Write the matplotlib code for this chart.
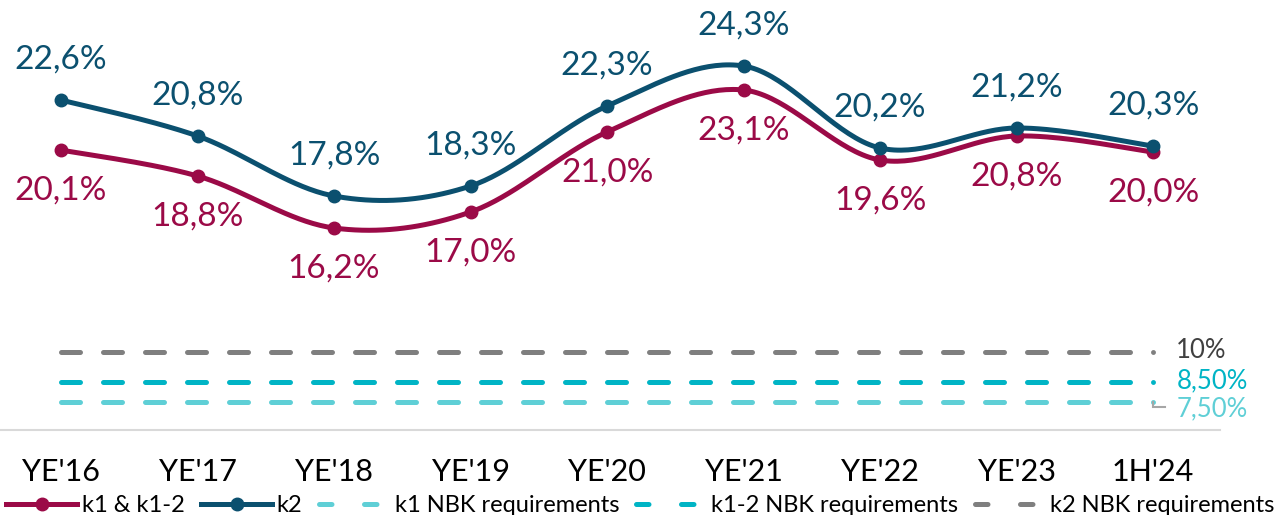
import matplotlib
matplotlib.use("Agg")
import matplotlib.pyplot as plt
from matplotlib.lines import Line2D
import numpy as np

plt.rcParams['font.family'] = ['Lato', 'DejaVu Sans']

# data
periods = ["YE'16", "YE'17", "YE'18", "YE'19", "YE'20", "YE'21", "YE'22", "YE'23", "1H'24"]
k1 = [20.1, 18.8, 16.2, 17.0, 21.0, 23.1, 19.6, 20.8, 20.0]
k2 = [22.6, 20.8, 17.8, 18.3, 22.3, 24.3, 20.2, 21.2, 20.3]
req_levels = [10.0, 8.5, 7.5]
req_labels = ["10%", "8,50%", "7,50%"]
req_names = ["k2 NBK requirements", "k1-2 NBK requirements", "k1 NBK requirements"]

c_k1 = '#9B0A47'
c_k2 = '#0B506F'
c_req = ['#7F7F7F', '#00B4C5', '#5FCFD6']
c_req_text = ['#404040', '#00B4C5', '#5FCFD6']


def smooth(xs, ys, n=40):
    # Excel-style smoothed line (cubic Bezier, Catmull-Rom control points)
    pts = np.column_stack([xs, ys]).astype(float)
    pad = np.vstack([pts[0], pts, pts[-1]])
    out = []
    t = np.linspace(0, 1, n)[:, None]
    for i in range(len(pts) - 1):
        p0, p1, p2, p3 = pad[i:i + 4]
        c1 = p1 + (p2 - p0) / 6
        c2 = p2 - (p3 - p1) / 6
        seg = (1 - t) ** 3 * p1 + 3 * (1 - t) ** 2 * t * c1 + 3 * (1 - t) * t ** 2 * c2 + t ** 3 * p2
        out.append(seg if i == 0 else seg[1:])
    return np.vstack(out)


def fmt(v):
    return f"{v:.1f}%".replace('.', ',')


fig = plt.figure(figsize=(12.81, 5.15), dpi=100)
ax = fig.add_axes([0, 85 / 515, 1220 / 1281, 430 / 515])

x = np.arange(len(periods))

# requirement lines
for lvl, col in zip(req_levels, c_req):
    ax.plot([x[0], x[-1]], [lvl, lvl], color=col, lw=3.6, dashes=(3.8, 4.6),
            dash_capstyle='round', solid_capstyle='round', zorder=2)
    ax.plot([x[-1]], [lvl], 'o', color=col, ms=3.5, mec='none', zorder=3)

# leader line for 7,50%
ax.plot([x[-1], x[-1], x[-1] + 0.088], [7.5, 7.27, 7.27], color='#A6A6A6', lw=1.5,
        solid_joinstyle='miter', clip_on=False, zorder=3)

for lvl_txt, lbl, col in zip([10.05, 8.55, 7.15], req_labels, c_req_text):
    ax.text(x[-1] + 0.17, lvl_txt, lbl, color=col, fontsize=18.5, ha='left', va='center',
            clip_on=False)

# series
for vals, col, off in [(k1, c_k1, -29), (k2, c_k2, 29)]:
    s = smooth(x, vals)
    ax.plot(s[:, 0], s[:, 1], color=col, lw=3.6, solid_capstyle='round', zorder=4)
    ax.plot(x, vals, 'o', color=col, ms=9, zorder=5)
    for xi, v in zip(x, vals):
        ax.annotate(fmt(v), (xi, v), xytext=(0, off), textcoords='offset points',
                    ha='center', va='center', color=col, fontsize=24)

ax.set_xlim(-0.447, 8.49)
ax.set_ylim(6.1, 27.6)
ax.set_yticks([])
ax.set_xticks(x)
ax.set_xticklabels(periods, fontsize=22, color='black')
ax.tick_params(axis='x', length=0, pad=20)
for sp in ['top', 'left', 'right']:
    ax.spines[sp].set_visible(False)
ax.spines['bottom'].set_color('#D9D9D9')
ax.spines['bottom'].set_linewidth(1.5)

handles = [
    Line2D([], [], color=c_k1, lw=3.6, marker='o', ms=9),
    Line2D([], [], color=c_k2, lw=3.6, marker='o', ms=9),
    Line2D([], [], color=c_req[2], lw=3.6, dashes=(2.5, 6.5), dash_capstyle='round'),
    Line2D([], [], color=c_req[1], lw=3.6, dashes=(2.5, 6.5), dash_capstyle='round'),
    Line2D([], [], color=c_req[0], lw=3.6, dashes=(2.5, 6.5), dash_capstyle='round'),
]
labels = ["k1 & k1-2", "k2", req_names[2], req_names[1], req_names[0]]
fig.legend(handles, labels, loc='center', bbox_to_anchor=(0.5, 9 / 515), ncol=5,
           frameon=False, fontsize=17, handlelength=3.0, handletextpad=0.2,
           columnspacing=0.7, borderaxespad=0, borderpad=0)

fig.savefig('out.png', dpi=100)
